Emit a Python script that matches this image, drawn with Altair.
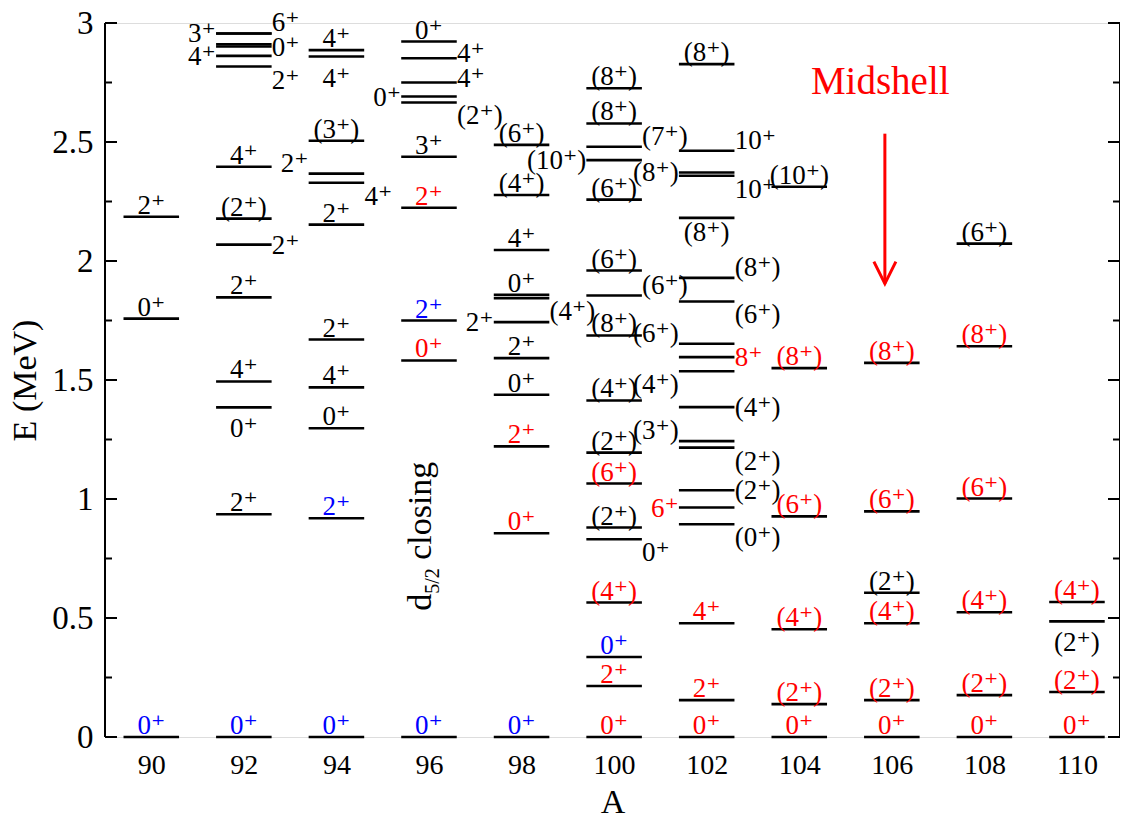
import altair as alt
import pandas as pd

# ---------------- data ----------------
# each level: (energy MeV, spin label, label colour code, label placement code)
lv90 = [(0.000, "0⁺", "b", "a"), (1.758, "0⁺", "k", "a"), (2.186, "2⁺", "k", "a")]
lv92 = [(0.000, "0⁺", "b", "a"), (0.936, "2⁺", "k", "a"), (1.385, "0⁺", "k", "b"),
        (1.494, "4⁺", "k", "a"), (1.847, "2⁺", "k", "a"), (2.069, "2⁺", "k", "r"),
        (2.178, "(2⁺)", "k", "a"), (2.396, "4⁺", "k", "a"), (2.956, "6⁺", "k", "ru"),
        (2.956, "3⁺", "k", "l"), (2.911, "", "k", "a"), (2.901, "0⁺", "k", "r"),
        (2.862, "4⁺", "k", "l"), (2.817, "2⁺", "k", "rd")]
lv94 = [(0.000, "0⁺", "b", "a"), (0.919, "2⁺", "b", "a"), (1.297, "0⁺", "k", "a"),
        (1.469, "4⁺", "k", "a"), (1.670, "2⁺", "k", "a"), (2.153, "2⁺", "k", "a"),
        (2.329, "4⁺", "k", "rd"), (2.367, "2⁺", "k", "lu"), (2.505, "(3⁺)", "k", "a"),
        (2.859, "4⁺", "k", "b"), (2.886, "4⁺", "k", "a")]
lv96 = [(0.000, "0⁺", "b", "a"), (1.582, "0⁺", "r", "a"), (1.750, "2⁺", "b", "a"),
        (2.224, "2⁺", "r", "a"), (2.438, "3⁺", "k", "a"), (2.666, "(2⁺)", "k", "rd"),
        (2.691, "0⁺", "k", "l"), (2.750, "4⁺", "k", "rm"), (2.852, "4⁺", "k", "rm"),
        (2.922, "0⁺", "k", "a")]
lv98 = [(0.000, "0⁺", "b", "a"), (0.856, "0⁺", "r", "a"), (1.221, "2⁺", "r", "a"),
        (1.438, "0⁺", "k", "a"), (1.592, "2⁺", "k", "a"), (1.743, "2⁺", "k", "l"),
        (1.844, "(4⁺)", "k", "rd"), (1.858, "0⁺", "k", "a"), (2.046, "4⁺", "k", "a"),
        (2.277, "(4⁺)", "k", "a"), (2.488, "(6⁺)", "k", "a")]
lv100 = [(0.000, "0⁺", "r", "a"), (0.214, "2⁺", "r", "a"), (0.336, "0⁺", "b", "a"),
         (0.565, "(4⁺)", "r", "a"), (0.831, "0⁺", "k", "rd"), (0.880, "(2⁺)", "k", "a"),
         (1.065, "(6⁺)", "r", "a"), (1.195, "(2⁺)", "k", "a"), (1.414, "(4⁺)", "k", "a"),
         (1.687, "(8⁺)", "k", "a"), (1.855, "(6⁺)", "k", "ru"), (1.960, "(6⁺)", "k", "a"),
         (2.258, "(6⁺)", "k", "a"), (2.424, "(10⁺)", "k", "l"), (2.480, "(7⁺)", "k", "ru"),
         (2.578, "(8⁺)", "k", "a"), (2.726, "(8⁺)", "k", "a")]
lv102 = [(0.000, "0⁺", "r", "a"), (0.155, "2⁺", "r", "a"), (0.478, "4⁺", "r", "a"),
         (0.894, "(0⁺)", "k", "rd"), (0.964, "6⁺", "r", "l"), (1.037, "(2⁺)", "k", "r"),
         (1.216, "(2⁺)", "k", "rd"), (1.243, "(3⁺)", "k", "lu"), (1.386, "(4⁺)", "k", "r"),
         (1.537, "(4⁺)", "k", "ld"), (1.596, "8⁺", "r", "r"), (1.652, "(6⁺)", "k", "lu"),
         (1.830, "(6⁺)", "k", "rd"), (1.929, "(8⁺)", "k", "ru"), (2.181, "(8⁺)", "k", "bt"),
         (2.358, "10⁺", "k", "rd"), (2.372, "(8⁺)", "k", "l"), (2.463, "10⁺", "k", "ru"),
         (2.827, "(8⁺)", "k", "a")]
lv104 = [(0.000, "0⁺", "r", "a"), (0.138, "(2⁺)", "r", "a"), (0.453, "(4⁺)", "r", "a"),
         (0.927, "(6⁺)", "r", "a"), (1.550, "(8⁺)", "r", "a"), (2.312, "(10⁺)", "k", "a")]
lv106 = [(0.000, "0⁺", "r", "a"), (0.155, "(2⁺)", "r", "a"), (0.478, "(4⁺)", "r", "a"),
         (0.606, "(2⁺)", "k", "a"), (0.948, "(6⁺)", "r", "a"), (1.572, "(8⁺)", "r", "a")]
lv108 = [(0.000, "0⁺", "r", "a"), (0.176, "(2⁺)", "r", "a"), (0.524, "(4⁺)", "r", "a"),
         (1.002, "(6⁺)", "r", "a"), (1.642, "(8⁺)", "r", "a"), (2.073, "(6⁺)", "k", "a")]
lv110 = [(0.000, "0⁺", "r", "a"), (0.189, "(2⁺)", "r", "a"), (0.486, "(2⁺)", "k", "b"),
         (0.567, "(4⁺)", "r", "a")]

nuclei = {90: lv90, 92: lv92, 94: lv94, 96: lv96, 98: lv98, 100: lv100,
          102: lv102, 104: lv104, 106: lv106, 108: lv108, 110: lv110}

x_ticks = [90, 92, 94, 96, 98, 100, 102, 104, 106, 108, 110]
y_major = [0, 0.5, 1, 1.5, 2, 2.5, 3]
y_minor = [0.25, 0.75, 1.25, 1.75, 2.25, 2.75]

midshell_A = [105.75]
midshell_text_E = [2.70]
arrow_A = [105.85]
arrow_top_E = [2.535]
arrow_tip_E = [1.905]
closing_A = [96.05]
closing_E = [0.53]

# ---------------- styles ----------------
W, H = 1015, 714
HALF = 0.6
FONT = "Liberation Serif, DejaVu Serif, serif"
LBL_SIZE = 27
POS = {
    "a": ("center", 0, -3),
    "b": ("center", 0, 30),
    "bt": ("center", 0, 23),
    "r": ("left", 28, 9),
    "rm": ("left", 28, 4),
    "ru": ("left", 28, -2),
    "rd": ("left", 28, 22),
    "l": ("right", -28, 9),
    "lu": ("right", -28, -2),
    "ld": ("right", -28, 22),
}

rows = []
for a, lst in nuclei.items():
    for e, lab, col, pos in lst:
        rows.append({"A": a, "E": e, "label": lab, "color": col, "pos": pos})
df = pd.DataFrame(rows)
df["x1"] = df["A"] - HALF
df["x2"] = df["A"] + HALF

xscale = alt.Scale(domain=[89, 110.93], nice=False, zero=False)
yscale = alt.Scale(domain=[0, 3], nice=False, zero=False)
cscale = alt.Scale(domain=["k", "r", "b"], range=["#000000", "#ff0000", "#0000ff"])


def X(field):
    return alt.X(field, scale=xscale, title="A")


def Y(field):
    return alt.Y(field, scale=yscale, title="E (MeV)")


lines = alt.Chart(df).mark_rule(color="black", strokeWidth=2.6).encode(
    x=alt.X("x1:Q", scale=xscale, title="A",
            axis=alt.Axis(values=x_ticks, labelFontSize=28, labelPadding=36,
                          labelBaseline="alphabetic", titleFontSize=34, titleY=75,
                          titleBaseline="alphabetic")),
    x2="x2:Q",
    y=alt.Y("E:Q", scale=yscale, title="E (MeV)",
            axis=alt.Axis(values=y_major, format="~g", labelFontSize=33, labelPadding=12,
                          labelBaseline="middle", titleFontSize=34, titleX=-80,
                          titleY=H / 2, titleAngle=270, titleAlign="center",
                          titleBaseline="middle")),
)

layers = [lines]
for code, (align, dx, dy) in POS.items():
    sub = df[(df["pos"] == code) & (df["label"] != "")]
    if len(sub) == 0:
        continue
    layers.append(
        alt.Chart(sub).mark_text(align=align, dx=dx, dy=dy, baseline="alphabetic",
                                 font=FONT, fontSize=LBL_SIZE).encode(
            x=X("A:Q"), y=Y("E:Q"), text="label:N",
            color=alt.Color("color:N", scale=cscale, legend=None),
        )
    )

# axis frame lines and inward ticks
ticks_df = pd.DataFrame({"E": y_major + y_minor,
                         "kind": ["major"] * len(y_major) + ["minor"] * len(y_minor)})
frame_df = pd.DataFrame({"side": ["left"]})
layers.append(alt.Chart(frame_df).mark_rule(color="black", strokeWidth=2).encode(
    x=alt.value(0), y=alt.value(0), y2=alt.value(H)))
layers.append(alt.Chart(frame_df).mark_rule(color="black", strokeWidth=2).encode(
    x=alt.value(W), y=alt.value(0), y2=alt.value(H)))
for kind, ln in (("major", 12), ("minor", 7)):
    sub = ticks_df[ticks_df["kind"] == kind]
    layers.append(alt.Chart(sub).mark_rule(color="black", strokeWidth=2).encode(
        x=alt.value(0), x2=alt.value(ln), y=Y("E:Q")))
    layers.append(alt.Chart(sub).mark_rule(color="black", strokeWidth=2).encode(
        x=alt.value(W - ln), x2=alt.value(W), y=Y("E:Q")))

# Midshell annotation with arrow
mid_df = pd.DataFrame({"At": midshell_A, "A": arrow_A, "Et": midshell_text_E,
                       "E1": arrow_top_E, "E2": arrow_tip_E, "t": ["Midshell"]})
layers.append(alt.Chart(mid_df).mark_text(font=FONT, fontSize=39, color="#ff0000",
                                          align="center", baseline="alphabetic").encode(
    x=X("At:Q"), y=Y("Et:Q"), text="t:N"))
layers.append(alt.Chart(mid_df).mark_rule(color="#ff0000", strokeWidth=3).encode(
    x=X("A:Q"), y=Y("E1:Q"), y2="E2:Q"))
layers.append(alt.Chart(mid_df).mark_point(shape="M-0.5,-1L0,0L0.5,-1", size=1936,
                                           filled=False, color="#ff0000", strokeWidth=3,
                                           opacity=1).encode(
    x=X("A:Q"), y=Y("E2:Q")))

# rotated "d5/2 closing" annotation
cl_df = pd.DataFrame({"A": closing_A, "E": closing_E, "d": ["d"], "s": ["5/2"],
                      "c": ["closing"]})
for field, size, dx, dy in (("d", 34, 0, 0), ("s", 20, 17, 8), ("c", 34, 51, 0)):
    layers.append(alt.Chart(cl_df).mark_text(font=FONT, fontSize=size, angle=270,
                                             align="left", baseline="alphabetic",
                                             dx=dx, dy=dy, color="black").encode(
        x=X("A:Q"), y=Y("E:Q"), text=f"{field}:N"))

chart = alt.layer(*layers).properties(
    width=W, height=H,
    padding={"left": 97, "top": 15, "right": 0, "bottom": 82},
    autosize=alt.AutoSizeParams(type="none"),
).configure_view(stroke=None).configure(background="white").configure_axis(
    grid=False, domain=False, ticks=False, tickSize=0, labelFont=FONT,
    labelColor="black", titleFont=FONT, titleFontWeight="normal", titleColor="black",
    labelOverlap=False, labelFlush=False,
)

chart.save("out.html", embed_options={"renderer": "svg", "actions": False})
